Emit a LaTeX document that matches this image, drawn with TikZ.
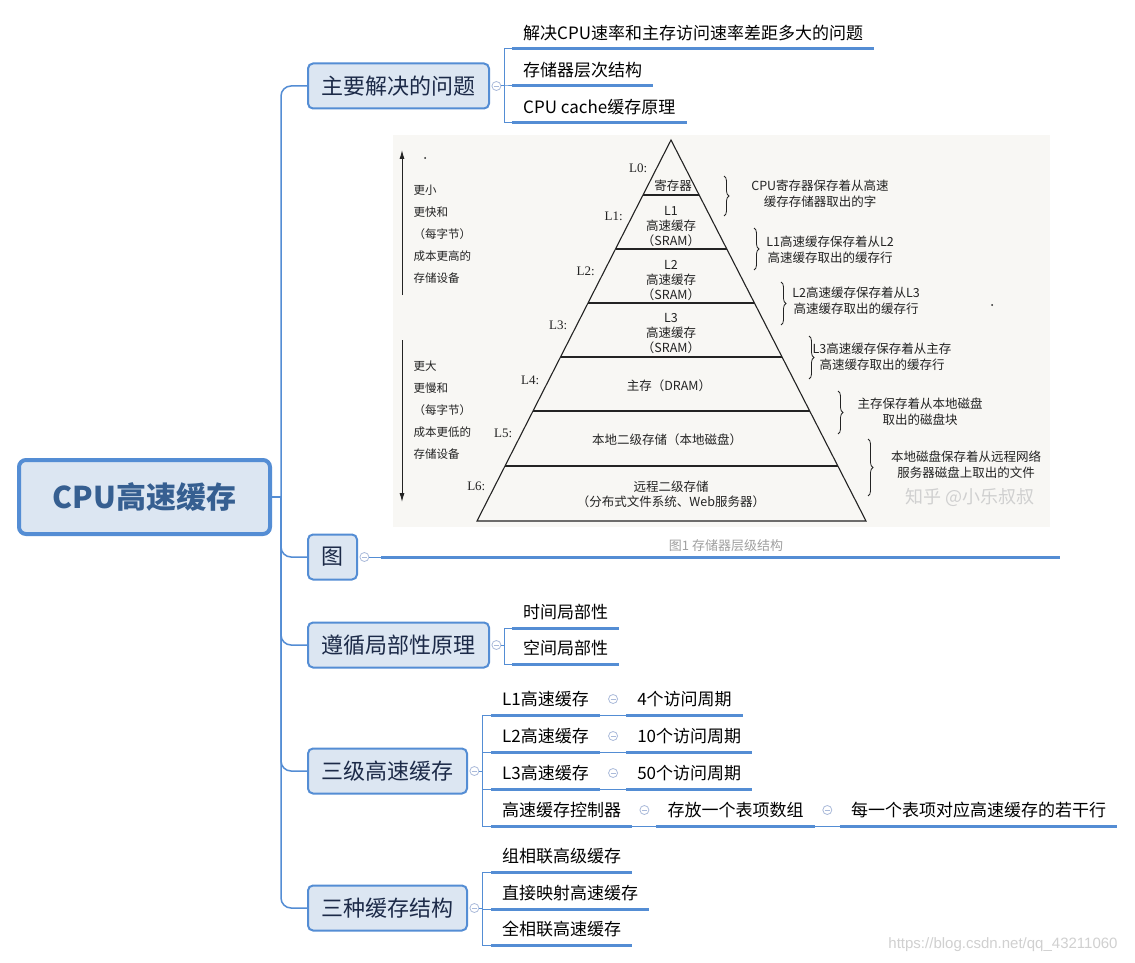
\documentclass[tikz,border=0pt]{standalone}
\usepackage{fontspec}
\setmainfont{Noto Sans CJK SC}
\newfontfamily\latinserif{Liberation Serif}
\newfontfamily\wmfont{Liberation Sans}
\usetikzlibrary{arrows.meta,calc,positioning,decorations.pathreplacing}
\definecolor{mmblue}{RGB}{84,141,212}
\definecolor{mmfill}{RGB}{220,230,242}
\definecolor{mmroot}{RGB}{54,95,145}
\definecolor{mmtext}{RGB}{28,42,72}
\definecolor{mmmark}{RGB}{170,186,218}
\definecolor{mmgray}{RGB}{160,160,160}
\definecolor{mmpaper}{RGB}{248,247,244}
\definecolor{mmwater}{RGB}{208,208,208}
\definecolor{mmink}{RGB}{35,35,35}

\begin{document}
\begin{tikzpicture}[
  x=1pt, y=-1pt,
  root/.style={draw=mmblue, line width=4pt, rounded corners=7pt, fill=mmfill,
    text=mmroot, font=\fontsize{30}{34}\selectfont\bfseries,
    minimum width=251pt, minimum height=74pt},
  topic/.style={draw=mmblue, line width=2pt, rounded corners=5pt, fill=mmfill,
    text=mmtext, font=\fontsize{22}{26}\selectfont, minimum height=45pt,
    inner xsep=13.5pt, anchor=west},
  leaf/.style={font=\fontsize{17}{20}\selectfont, inner xsep=11pt,
    inner ysep=8pt, anchor=south west},
  uline/.style={draw=mmblue, line width=3pt},
  trunk/.style={draw=mmblue, line width=1.5pt, rounded corners=10pt},
  conn/.style={draw=mmblue, line width=1pt},
  fold/.style={circle, draw=mmmark, fill=white, line width=0.8pt,
    minimum size=9pt, inner sep=0pt,
    path picture={\draw[mmmark, line width=0.8pt]
      ([xshift=2pt]path picture bounding box.west) --
      ([xshift=-2pt]path picture bounding box.east);}},
  pyr/.style={draw=mmink, line width=1.1pt},
  ptext/.style={font=\fontsize{12.5}{15}\selectfont, align=center, text=mmink},
  note/.style={font=\fontsize{12.5}{16}\selectfont, align=center, text=mmink},
  side/.style={font=\fontsize{11.5}{22}\selectfont, align=left, text=mmink, anchor=west},
  lvl/.style={font=\latinserif\fontsize{13}{15}\selectfont, text=mmink, anchor=east},
  brc/.style={decorate, decoration={brace, amplitude=5pt}, draw=mmink, line width=0.8pt}
]
  \fill[white] (0,0) rectangle (1135,963);
  \useasboundingbox (0,0) rectangle (1135,963);

  % central topic and main branches
  \node[root] (root) at (144.5,497) {CPU高速缓存};
  \coordinate (hub) at (281,497);
  \node[topic] (t1) at (307,86) {主要解决的问题};
  \node[topic] (t2) at (307,557) {图};
  \node[topic] (t3) at (307,645) {遵循局部性原理};
  \node[topic] (t4) at (307,771) {三级高速缓存};
  \node[topic] (t5) at (307,908) {三种缓存结构};
  \draw[trunk] (root.east) -- (hub);
  \foreach \t in {t1,t2,t3,t4,t5}
    \draw[trunk] (hub) |- (\t.west);
  \foreach \i in {1,...,5}
    \node[fold, right=1.5pt of t\i] (f\i) {};

  % 主要解决的问题
  \node[leaf] (p1) at (512,49) {解决CPU速率和主存访问速率差距多大的问题};
  \node[leaf] (p2) at (512,86) {存储器层次结构};
  \node[leaf] (p3) at (512,123) {CPU cache缓存原理};
  \foreach \p in {p1,p2,p3} {
    \draw[conn] (f1.east) -- ++(3,0) |- (\p.south west);
    \draw[uline] (\p.south west) -- (\p.south east);
  }

  % 图: storage hierarchy figure
  \coordinate (figL) at (381,557);
  \coordinate (figR) at (1060,557);
  \draw[conn] (f2.east) -- (figL);
  \draw[uline] (figL) -- (figR);
  \fill[mmpaper] (393,135) rectangle (1050,527);
  \node[font=\fontsize{13}{15}\selectfont, text=mmgray] (cap) at (726,546) {图1 存储器层级结构};

  \coordinate (apex) at (671,140);
  \coordinate (bl) at (477,521);
  \coordinate (br) at (866,521);
  \draw[pyr] (apex) -- (bl) -- (br) -- cycle;
  \foreach \t in {0.1444,0.2861,0.4278,0.5696,0.7113,0.8556}
    \draw[pyr] ($(apex)!\t!(bl)$) -- ($(apex)!\t!(br)$);
  \foreach \i/\t in {0/0.0735,1/0.1995,2/0.3438,3/0.4856,4/0.630,5/0.769,6/0.908}
    \node[lvl] (lv\i) at ($(apex)!\t!(bl)+(-6,0)$) {L\i:};

  \node[ptext] (b0) at (673,186) {寄存器};
  \node[ptext] (b1) at (671,227) {L1\\高速缓存\\（SRAM）};
  \node[ptext] (b2) at (671,281) {L2\\高速缓存\\（SRAM）};
  \node[ptext] (b3) at (671,334) {L3\\高速缓存\\（SRAM）};
  \node[ptext] (b4) at (669,386) {主存（DRAM）};
  \node[ptext] (b5) at (667,440) {本地二级存储（本地磁盘）};
  \node[ptext] (b6) at (671,494) {远程二级存储\\（分布式文件系统、Web服务器）};

  \draw[brc] (724,176) -- (724,216);
  \draw[brc] (754,228) -- (754,270);
  \draw[brc] (781,282) -- (781,325);
  \draw[brc] (809,336) -- (809,379);
  \draw[brc] (838,391) -- (838,434);
  \draw[brc] (868,439) -- (868,496);
  \node[note] (n1) at (820,194) {CPU寄存器保存着从高速\\缓存存储器取出的字};
  \node[note] (n2) at (830,250) {L1高速缓存保存着从L2\\高速缓存取出的缓存行};
  \node[note] (n3) at (856,301) {L2高速缓存保存着从L3\\高速缓存取出的缓存行};
  \node[note] (n4) at (882,357) {L3高速缓存保存着从主存\\高速缓存取出的缓存行};
  \node[note] (n5) at (920,412) {主存保存着从本地磁盘\\取出的磁盘块};
  \node[note] (n6) at (966,465) {本地磁盘保存着从远程网络\\服务器磁盘上取出的文件};

  \draw[mmink, line width=1pt, -{Latex[length=9pt,width=5pt]}] (402,295) -- (402,150);
  \draw[mmink, line width=1pt, -{Latex[length=9pt,width=5pt]}] (402,340) -- (402,502);
  \node[side] (sd1) at (410,234) {更小\\更快和\\（每字节）\\成本更高的\\存储设备};
  \node[side] (sd2) at (410,410) {更大\\更慢和\\（每字节）\\成本更低的\\存储设备};
  \fill[mmink] (425,158) circle (1);
  \fill[mmink] (992,305) circle (1);
  \node[font=\fontsize{18}{20}\selectfont, text=mmwater] (zh) at (970,497) {知乎 @小乐叔叔};

  % 遵循局部性原理
  \node[leaf] (s1) at (512,628) {时间局部性};
  \node[leaf] (s2) at (512,664) {空间局部性};
  \foreach \p in {s1,s2} {
    \draw[conn] (f3.east) -- ++(3,0) |- (\p.south west);
    \draw[uline] (\p.south west) -- (\p.south east);
  }

  % 三级高速缓存
  \node[leaf] (q1) at (491,715) {L1高速缓存};
  \node[leaf] (q2) at (491,752) {L2高速缓存};
  \node[leaf] (q3) at (491,789) {L3高速缓存};
  \node[leaf] (q4) at (491,826) {高速缓存控制器};
  \node[leaf, right=26pt of q1.south east, anchor=south west] (r1) {4个访问周期};
  \node[leaf, right=26pt of q2.south east, anchor=south west] (r2) {10个访问周期};
  \node[leaf, right=26pt of q3.south east, anchor=south west] (r3) {50个访问周期};
  \node[leaf, right=24pt of q4.south east, anchor=south west] (r4) {存放一个表项数组};
  \node[leaf, right=25pt of r4.south east, anchor=south west] (r5) {每一个表项对应高速缓存的若干行};
  \foreach \p in {q1,q2,q3,q4} {
    \draw[conn] (f4.east) -- ++(3,0) |- (\p.south west);
    \draw[uline] (\p.south west) -- (\p.south east);
  }
  \foreach \a/\b/\g in {q1/r1/g1,q2/r2/g2,q3/r3/g3,q4/r4/g4,r4/r5/g5} {
    \draw[conn] (\a.south east) -- (\b.south west);
    \draw[uline] (\b.south west) -- (\b.south east);
    \node[fold] (\g) at ($(\a.south east)!0.5!(\b.south west)+(0,-16)$) {};
  }

  % 三种缓存结构
  \node[leaf] (k1) at (491,872) {组相联高级缓存};
  \node[leaf] (k2) at (491,909) {直接映射高速缓存};
  \node[leaf] (k3) at (491,945) {全相联高速缓存};
  \foreach \p in {k1,k2,k3} {
    \draw[conn] (f5.east) -- ++(3,0) |- (\p.south west);
    \draw[uline] (\p.south west) -- (\p.south east);
  }

  \node[font=\wmfont\fontsize{15}{17}\selectfont, text=mmwater] (csdn) at (1003,945) {https://blog.csdn.net/qq\_43211060};
\end{tikzpicture}
\end{document}
